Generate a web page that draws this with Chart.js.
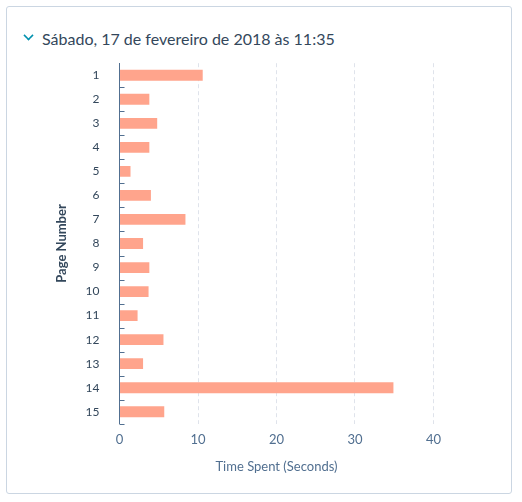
<!DOCTYPE html>
<html>
<head>
<meta charset="utf-8">
<script src="https://cdn.jsdelivr.net/npm/chart.js@4/dist/chart.umd.min.js"></script>
<style>
  body { margin: 0; background: #fff; font-family: Lato, "Open Sans", sans-serif; }
  .card { position: absolute; left: 6px; top: 6px; width: 506px; height: 488px; border: 1px solid #cbd6e2; border-radius: 3px; box-sizing: border-box; }
  .title { position: absolute; left: 42px; top: 29px; font-size: 16px; color: #33475b; }
  .chev { position: absolute; left: 24px; top: 31px; width: 7px; height: 7px; border-right: 2px solid #0091ae; border-bottom: 2px solid #0091ae; transform: rotate(45deg) scale(0.8); }
  .wrap { position: absolute; left: 50px; top: 44px; width: 399px; height: 435px; }
</style>
</head>
<body>
<div class="card"></div>
<div class="chev"></div>
<div class="title">Sábado, 17 de fevereiro de 2018 às 11:35</div>
<div class="wrap"><canvas id="chart"></canvas></div>
<script>
const pages = ['1','2','3','4','5','6','7','8','9','10','11','12','13','14','15'];
const timeSpent = [10.6, 3.8, 4.8, 3.8, 1.4, 4.0, 8.4, 3.0, 3.8, 3.7, 2.3, 5.6, 3.0, 34.9, 5.7];

// short marks on the inside of the y axis between categories
const catTicks = {
    id: 'catTicks',
    afterDatasetsDraw(chart) {
        const { ctx, scales: { x, y } } = chart;
        ctx.save();
        ctx.strokeStyle = '#516f90';
        ctx.lineWidth = 1;
        for (let i = 0; i < pages.length; i++) {
            const py = Math.round(y.getPixelForValue(i) + (y.getPixelForValue(1) - y.getPixelForValue(0)) / 2) + 0.5;
            ctx.beginPath();
            ctx.moveTo(x.left, py);
            ctx.lineTo(x.left + 5, py);
            ctx.stroke();
        }
        ctx.restore();
    }
};

new Chart(document.getElementById('chart'), {
    type: 'bar',
    data: {
        labels: pages,
        datasets: [{ data: timeSpent, backgroundColor: '#ffa48c', barPercentage: 0.45, categoryPercentage: 1 }]
    },
    options: {
        indexAxis: 'y',
        responsive: true,
        maintainAspectRatio: false,
        animation: false,
        layout: { padding: { top: 8 } },
        plugins: { legend: { display: false }, tooltip: { enabled: false } },
        scales: {
            x: {
                min: 0, max: 40,
                ticks: { stepSize: 10, color: '#516f90', font: { family: 'Lato', size: 13 }, padding: 8 },
                grid: { color: '#dfe3eb', drawTicks: false, tickLength: 0 },
                border: { display: false, dash: [4, 3] },
                title: { display: true, text: 'Time Spent (Seconds)', color: '#516f90', font: { family: 'Lato', size: 13 } }
            },
            y: {
                ticks: { color: '#33475b', font: { family: 'Lato', size: 12 }, padding: 12 },
                grid: { display: false },
                border: { color: '#516f90' },
                title: { display: true, text: 'Page Number', color: '#33475b', font: { family: 'Lato', size: 13, weight: 'bold' } }
            }
        }
    },
    plugins: [catTicks]
});
</script>
</body>
</html>
